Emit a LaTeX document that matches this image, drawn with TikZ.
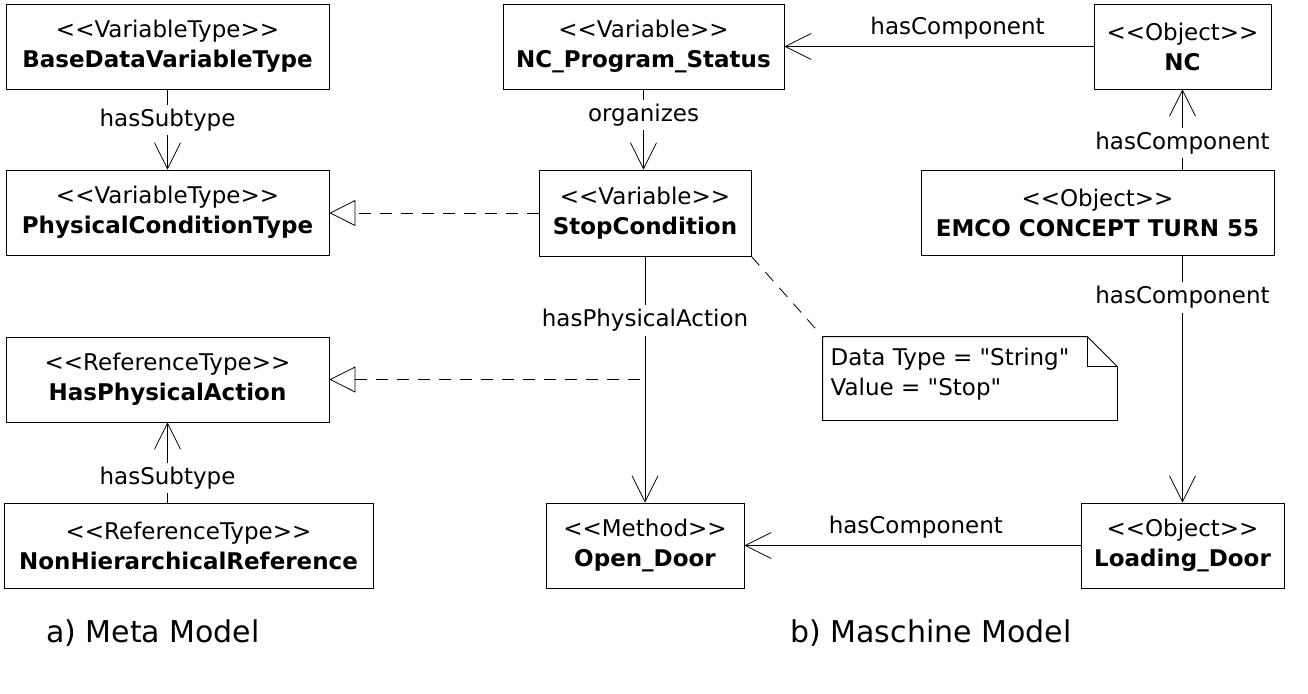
\documentclass[tikz,border=0pt]{standalone}
\usepackage{fontspec}
\setmainfont{DejaVu Sans}[Ligatures=TeXOff]
\usetikzlibrary{arrows.meta, positioning}
\newcommand{\stereo}[1]{<\kern0pt<#1>\kern0pt>}
\tikzset{
	line width = 1.25pt,
	font = \fontsize{11.5}{15}\selectfont,
	umlbox/.style={
		draw,
		rectangle,
		align=center,
		inner sep=2pt,
		minimum height=42.5pt
	},
	notebox/.style={
		rectangle,
		inner sep=0pt
	},
	umldash/.style={
		dash pattern=on 6pt off 4.5pt
	},
	assoc/.style={
		-{Straight Barb[length=13pt, width=13pt]}
	},
	realize/.style={
		umldash,
		-{Triangle[open, length=13pt, width=13pt]}
	},
	lbl/.style={
		fill=white,
		inner sep=2pt
	},
	caption/.style={
		font=\fontsize{15}{18}\selectfont
	}
}

\begin{document}
\begin{tikzpicture}[x=0.5pt, y=-0.5pt]
\useasboundingbox (0,0) rectangle (1308,693);

% ---
% a) meta model
% ---
\node[umlbox, minimum width=161.5pt] (bdvt) at (167.5,46.5) {\stereo{VariableType}\\\textbf{BaseDataVariableType}};
\node[umlbox, minimum width=161.5pt] (pct) at (167.5,212.5) {\stereo{VariableType}\\\textbf{PhysicalConditionType}};
\node[umlbox, minimum width=161.5pt] (hpa) at (167.5,379.5) {\stereo{ReferenceType}\\\textbf{HasPhysicalAction}};
\node[umlbox, minimum width=184.5pt] (nhr) at (188.5,545.5) {\stereo{ReferenceType}\\\textbf{NonHierarchicalReference}};

% ---
% b) machine model
% ---
\node[umlbox, minimum width=140.5pt] (ncps) at (643.5,46.5) {\stereo{Variable}\\\textbf{NC\_Program\_Status}};
\node[umlbox, minimum width=106pt, minimum height=43pt] (stop) at (645,213) {\stereo{Variable}\\\textbf{StopCondition}};
\node[umlbox, minimum width=99pt] (door) at (645,545.5) {\stereo{Method}\\\textbf{Open\_Door}};
\node[umlbox, minimum width=88.5pt] (nc) at (1182.5,46.5) {\stereo{Object}\\\textbf{NC}};
\node[umlbox, minimum width=176.5pt] (emco) at (1097.5,212.5) {\stereo{Object}\\\textbf{EMCO CONCEPT TURN 55}};
\node[umlbox, minimum width=101.5pt] (load) at (1182.5,545.5) {\stereo{Object}\\\textbf{Loading\_Door}};

% note
\node[notebox, minimum width=147pt, minimum height=41.5pt] (note) at (970,378.5) {};
\draw (note.north west) -- ([xshift=-15pt]note.north east) -- ([yshift=-15pt]note.north east) -- (note.south east) -- (note.south west) -- cycle;
\draw ([xshift=-15pt]note.north east) |- ([yshift=-15pt]note.north east);
\node[anchor=north west, align=left] (notetext) at ([xshift=0.5pt, yshift=-2pt]note.north west) {Data Type = "String"\\Value = "Stop"};

% ---
% captions
% ---
\node[caption, anchor=west] (capa) at (39,633) {a) Meta Model};
\node[caption] (capb) at (931,633) {b) Maschine Model};

% ---
% Connectors
% ---
\draw[assoc] (bdvt) -- node[lbl, pos=.38] (sub1) {hasSubtype} (pct);
\draw[assoc] (hpa.south |- nhr.north) -- node[lbl, pos=.31] (sub2) {hasSubtype} (hpa.south);
\draw[realize] (stop.west) -- (stop.west -| pct.east);
\coordinate (join) at (stop.south |- hpa.east);
\draw[realize, shorten <=2.5pt] (join) -- (hpa.east);

\draw[assoc] (ncps.south) -- node[lbl, pos=.32] (org) {organizes} (ncps.south |- stop.north);
\draw[assoc] (stop) -- node[lbl, pos=.26] (act) {hasPhysicalAction} (door);
\draw[assoc] (nc.west) -- node[above, pos=.44] (comp1) {hasComponent} (nc.west -| ncps.east);
\draw[assoc] (nc.south |- emco.north) -- node[lbl, pos=.33] (comp2) {hasComponent} (nc.south);
\draw[assoc] (load.north |- emco.south) -- node[lbl, pos=.17] (comp3) {hasComponent} (load.north);
\draw[assoc] (load.west) -- node[above, pos=.49] (comp4) {hasComponent} (door.east);
\draw[umldash, shorten >=3pt] (stop.south east) -- (note.north west);
\end{tikzpicture}
\end{document}
